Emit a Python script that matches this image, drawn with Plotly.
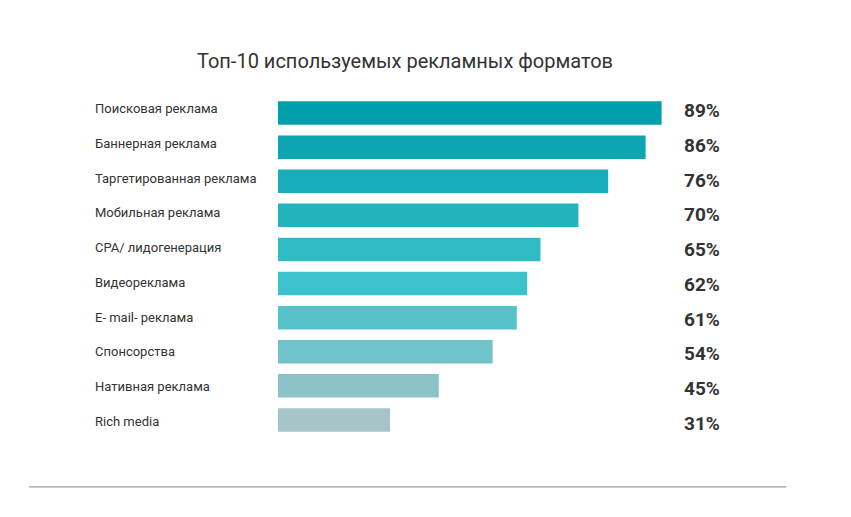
import plotly.graph_objects as go

categories = [
    "Поисковая реклама",
    "Баннерная реклама",
    "Таргетированная реклама",
    "Мобильная реклама",
    "CPA/ лидогенерация",
    "Видеореклама",
    "E- mail- реклама",
    "Спонсорства",
    "Нативная реклама",
    "Rich media",
]
# values printed on the chart (%)
values = [89, 86, 76, 70, 65, 62, 61, 54, 45, 31]
# bar lengths as drawn in the picture (same % scale)
bar_lengths = [89, 85.3, 76.6, 69.7, 60.9, 57.8, 55.4, 49.8, 37.3, 26.0]
colors = [
    "#009fae", "#0ea5b3", "#18adb9", "#22b3bd", "#30bbc5",
    "#3cc2cc", "#57c2ca", "#70c3c8", "#8cc3ca", "#a7c4c9",
]

W, H = 851, 517
OFF = 8  # page body margin
L = 277.5 - OFF
R = W - (709.5 - OFF)
T = 95.6 - OFF
B = H - (437.1 - OFF)
plot_w = W - L - R
plot_h = H - T - B


def px_x(x):
    return (x - OFF - L) / plot_w


def px_y(y):
    return 1 - (y - OFF - T) / plot_h


fig = go.Figure()
fig.add_trace(go.Bar(
    x=bar_lengths,
    y=categories,
    orientation="h",
    marker=dict(color=colors, line=dict(width=0)),
    hoverinfo="skip",
))

# text rows in the reference sit on a slightly wider pitch than the bars
ROW0_LABEL, ROW0_PCT, ROW_PITCH = 108.5, 110.5, 34.75

annotations = []
for i, (c, v) in enumerate(zip(categories, values)):
    annotations.append(dict(
        x=px_x(723), xref="paper", y=px_y(ROW0_PCT + ROW_PITCH * i), yref="paper",
        text=f"{v}%", showarrow=False, xanchor="right", yanchor="middle",
        font=dict(family="Roboto", size=19, color="#333333", weight="bold"),
    ))
    annotations.append(dict(
        x=px_x(92), xref="paper", y=px_y(ROW0_LABEL + ROW_PITCH * i), yref="paper",
        text=c, showarrow=False, xanchor="left", yanchor="middle",
        font=dict(family="Roboto", size=13, color="#333333"),
    ))

fig.update_layout(
    width=W, height=H,
    margin=dict(l=L, r=R, t=T, b=B),
    paper_bgcolor="white", plot_bgcolor="white",
    title=dict(
        text="Топ-10 используемых рекламных форматов",
        x=(405 - OFF) / W, xanchor="center", y=1 - (61 - OFF) / H, yanchor="middle",
        font=dict(family="Roboto", size=20, color="#333333"),
    ),
    xaxis=dict(range=[0, 100], visible=False, fixedrange=True),
    yaxis=dict(autorange="reversed", showticklabels=False, showgrid=False,
               zeroline=False, showline=False, ticks=""),
    bargap=0.31,
    showlegend=False,
    annotations=annotations,
    shapes=[dict(
        type="line", xref="paper", yref="paper",
        x0=px_x(28), x1=px_x(787),
        y0=px_y(487), y1=px_y(487),
        line=dict(color="#9e9e9e", width=1.2),
    )],
)

fig.write_html("out.html")
